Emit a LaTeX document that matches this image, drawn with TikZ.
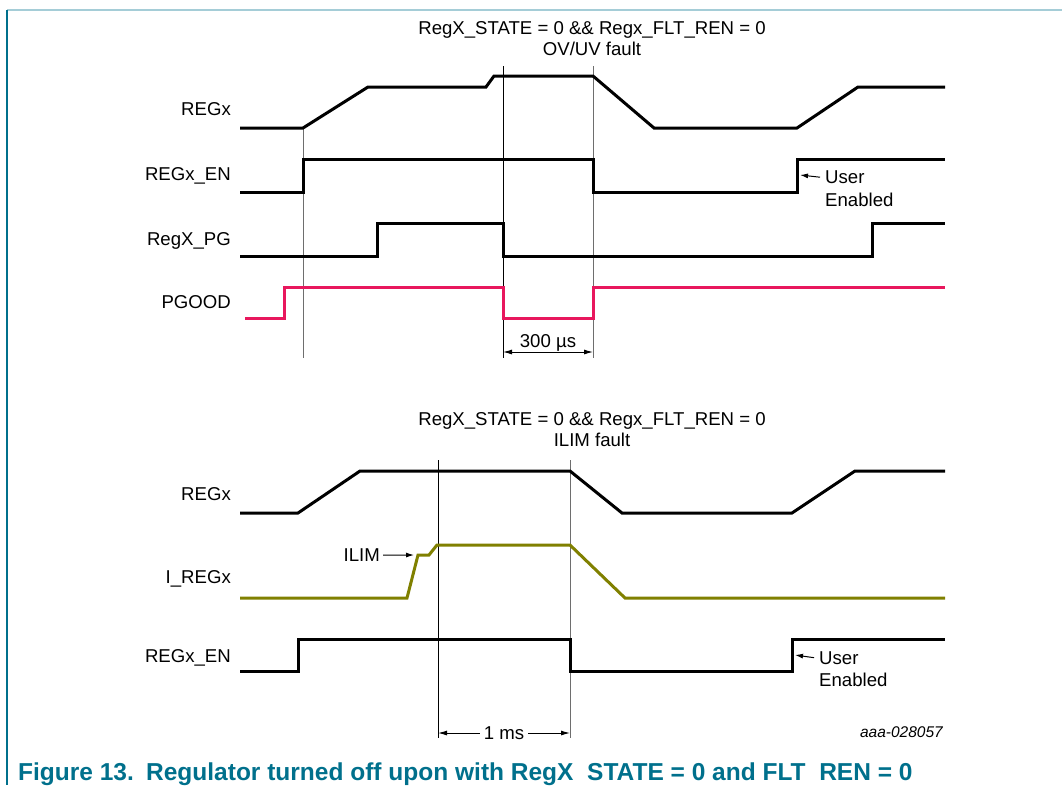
\documentclass[tikz,border=0pt]{standalone}
\usepackage{fontspec}
\setmainfont{Liberation Sans}
\usetikzlibrary{arrows.meta}

\definecolor{pgoodred}{RGB}{232,23,93}
\definecolor{ilimolive}{RGB}{128,128,0}
\definecolor{capteal}{RGB}{0,112,140}
\definecolor{framelight}{RGB}{165,205,215}
\definecolor{guidegray}{RGB}{110,110,110}

\tikzset{
  sigline/.style={line width=3pt, line join=miter},
  guide/.style={line width=1pt},
  siglabel/.style={anchor=base east, inner sep=0pt, font=\fontsize{18.6}{21}\selectfont},
  txt/.style={inner sep=0pt, font=\fontsize{18.6}{21}\selectfont},
  tip/.style={-{Latex[length=8pt,width=5pt]}, line width=1pt},
  dimline/.style={{Latex[length=9pt,width=5pt]}-{Latex[length=9pt,width=5pt]}, line width=1pt}
}

\begin{document}
\begin{tikzpicture}[x=1pt,y=-1pt]

\useasboundingbox (0,0) rectangle (1062,785);

% Frame
\draw[framelight, line width=1.2pt] (7,10) -- (1062,10);
\draw[capteal, line width=1.4pt] (7,10) -- (7,785);

% ---------------- OV/UV fault ----------------
\node[txt, anchor=base] (ovtitle) at (592,34.5) {RegX\_STATE = 0 \&\& Regx\_FLT\_REN = 0};
\node[txt, anchor=base] (ovfault) at (592,55.5) {OV/UV fault};

% Signal names
\node[siglabel] (regxA) at (231,115.5) {REGx};
\node[siglabel] (enA) at (231,180.5) {REGx\_EN};
\node[siglabel] (pgA) at (231,245.5) {RegX\_PG};
\node[siglabel] (pgood) at (231,308.5) {PGOOD};

% Guide lines
\coordinate (gA1) at (303,128);
\coordinate (gA1b) at (303,358);
\coordinate (gA2) at (503,66);
\coordinate (gA2b) at (503,358);
\coordinate (gA3) at (593,66);
\coordinate (gA3b) at (593,358);
\draw[guide, guidegray] (gA1) -- (gA1b);
\draw[guide] (gA2) -- (gA2b);
\draw[guide, guidegray] (gA3) -- (gA3b);

% REGx
\draw[sigline] (240,128) -- (303,128) -- (368,87) -- (486,87) -- (494,76)
  -- (593,76) -- (654,128) -- (797,128) -- (858,87) -- (945,87);

% REGx_EN
\draw[sigline] (240,192) -- (303,192) -- (303,159) -- (593,159) -- (593,192)
  -- (797,192) -- (797,159) -- (945,159);

% RegX_PG
\draw[sigline] (240,256) -- (377,256) -- (377,223) -- (503,223) -- (503,256)
  -- (872,256) -- (872,223) -- (945,223);

% PGOOD
\draw[sigline, pgoodred] (245,318) -- (284,318) -- (284,287) -- (503,287) -- (503,318)
  -- (593,318) -- (593,287) -- (945,287);

% 300 us
\coordinate (dA1) at (503,352);
\coordinate (dA2) at (593,352);
\draw[dimline] (dA1) -- (dA2);
\node[txt, anchor=base] (tA) at (548,347.5) {300 µs};

% User enabled
\coordinate (ueA) at (800,175);
\node[txt, anchor=base west] (userA) at (825,183.5) {User};
\node[txt, anchor=base west] (enabA) at (825,206) {Enabled};
\draw[tip] (userA.west) ++(-5pt,0) -- (ueA);

% ---------------- ILIM fault ----------------
\node[txt, anchor=base] (iltitle) at (592,425.5) {RegX\_STATE = 0 \&\& Regx\_FLT\_REN = 0};
\node[txt, anchor=base] (ilfault) at (592,446.5) {ILIM fault};

% Signal names
\node[siglabel] (regxB) at (231,500.5) {REGx};
\node[siglabel] (ireg) at (231,583.5) {I\_REGx};
\node[siglabel] (enB) at (231,662.5) {REGx\_EN};

% Guide lines
\coordinate (gB1) at (438,460);
\coordinate (gB1b) at (438,738);
\coordinate (gB2) at (570,460);
\coordinate (gB2b) at (570,738);
\draw[guide] (gB1) -- (gB1b);
\draw[guide, guidegray] (gB2) -- (gB2b);

% REGx
\draw[sigline] (240,513) -- (298,513) -- (360,471) -- (570,471) -- (622,513)
  -- (792,513) -- (855,471) -- (945,471);

% I_REGx
\draw[sigline, ilimolive] (240,598) -- (407,598) -- (418,555) -- (429,555) -- (437,545)
  -- (570,545) -- (625,598) -- (945,598);

% REGx_EN
\draw[sigline] (240,671) -- (298,671) -- (298,639) -- (570,639) -- (570,671)
  -- (792,671) -- (792,639) -- (945,639);

% ILIM marker
\node[txt, anchor=base east] (ilim) at (380,561.5) {ILIM};
\coordinate (ilimtip) at (414,555);
\draw[tip] (ilim.east) ++(3pt,0) -- (ilimtip);

% 1 ms
\coordinate (dB1) at (438,733);
\coordinate (dB2) at (570,733);
\draw[dimline] (dB1) -- (dB2);
\node[txt, anchor=base, fill=white, inner xsep=4pt] (tB) at (504,739.5) {1 ms};

% User enabled
\coordinate (ueB) at (795,655);
\node[txt, anchor=base west] (userB) at (819,664) {User};
\node[txt, anchor=base west] (enabB) at (819,686) {Enabled};
\draw[tip] (userB.west) ++(-5pt,0) -- (ueB);

% Figure id
\node[anchor=base east, inner sep=0pt, font=\fontsize{15.5}{18}\selectfont\itshape] (figid) at (943,737.5) {aaa-028057};

% Caption
\node[anchor=base west, inner sep=0pt, text=capteal, font=\fontsize{24.5}{28}\selectfont\bfseries] (caption) at (18,780)
  {Figure 13.\hspace{0.5em}Regulator turned off upon with RegX\hspace{0.556em}STATE = 0 and FLT\hspace{0.556em}REN = 0};

\end{tikzpicture}
\end{document}
